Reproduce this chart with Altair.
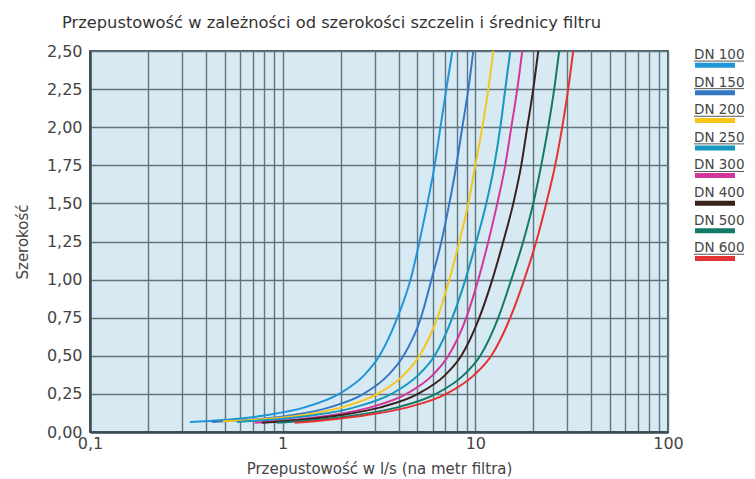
import altair as alt
import pandas as pd

# ---- data ----
series = ["DN 100", "DN 150", "DN 200", "DN 250", "DN 300", "DN 400", "DN 500", "DN 600"]
colors = ["#1e96d8", "#3478c4", "#f7c51c", "#1597bf", "#d4359b", "#3b211c", "#127a67", "#e53232"]
underlined = [True, True, True, True, True, False, False, True]

levels = [0.11, 0.16, 0.25, 0.375, 0.50, 0.75, 1.00, 1.25, 1.50, 1.75, 2.00, 2.25, 2.50]

dn100_q = [0.330, 0.816, 1.285, 1.962, 2.66, 3.18, 3.94, 4.61, 5.13, 5.64, 6.15, 6.59, 7.07, 7.60]
dn100_w = [0.066] + levels

dn150_q = [0.429, 1.113, 1.731, 2.629, 3.54, 4.24, 5.22, 5.92, 6.67, 7.33, 7.97, 8.56, 9.20, 9.76]
dn150_w = [0.066] + levels

dn200_q = [0.489, 1.262, 1.998, 3.106, 4.26, 5.13, 6.36, 7.33, 8.26, 9.20, 10.0, 10.87, 11.68, 12.40]
dn200_w = [0.07] + levels

dn250_q = [0.578, 1.447, 2.333, 3.671, 5.07, 6.15, 7.60, 8.88, 10.12, 11.40, 12.54, 13.48, 14.30, 15.18]
dn250_w = [0.066] + levels

dn300_q = [0.716, 1.784, 2.823, 4.39, 6.02, 7.25, 8.98, 10.36, 11.68, 13.00, 14.30, 15.37, 16.51, 17.52]
dn300_w = [0.06] + levels

dn400_q = [0.778, 1.974, 3.181, 5.04, 6.99, 8.46, 10.49, 12.25, 13.97, 15.74, 17.31, 18.60, 19.98, 21.21]
dn400_w = [0.06] + levels

dn500_q = [0.931, 2.389, 3.896, 6.24, 8.72, 10.61, 13.16, 15.37, 17.73, 19.98, 21.98, 23.89, 25.67, 27.24]
dn500_w = [0.06] + levels

dn600_q = [1.154, 2.692, 4.391, 7.07, 9.88, 12.10, 15.18, 17.94, 20.71, 23.33, 25.97, 28.24, 30.33, 32.20]
dn600_w = [0.06] + levels

x_grid = [0.1, 0.2, 0.3, 0.4, 0.5, 0.6, 0.7, 0.8, 0.9,
          1, 2, 3, 4, 5, 6, 7, 8, 9,
          10, 20, 30, 40, 50, 60, 70, 80, 90, 100]
y_ticks = [0, 0.25, 0.5, 0.75, 1.0, 1.25, 1.5, 1.75, 2.0, 2.25, 2.5]

# ---- build tables ----
all_q = [dn100_q, dn150_q, dn200_q, dn250_q, dn300_q, dn400_q, dn500_q, dn600_q]
all_w = [dn100_w, dn150_w, dn200_w, dn250_w, dn300_w, dn400_w, dn500_w, dn600_w]
rows = []
for name, qs, ws in zip(series, all_q, all_w):
    for i, (q, w) in enumerate(zip(qs, ws)):
        rows.append({"series": name, "q": q, "w": w, "i": i})
df = pd.DataFrame(rows)
leg = pd.DataFrame({"series": series, "row": list(range(len(series))), "ul": underlined})

FONT = "DejaVu Sans"
W, H = 578, 381
color_scale = alt.Scale(domain=series, range=colors)

lines = alt.Chart(df).mark_line(strokeWidth=2, interpolate="monotone", clip=True).encode(
    x=alt.X("q:Q",
            scale=alt.Scale(type="log", domain=[0.1, 100], nice=False),
            axis=alt.Axis(values=x_grid, title="Przepustowość w l/s (na metr filtra)",
                          labelExpr="datum.value == 0.1 ? '0,1' : (datum.value == 1 || datum.value == 10 || datum.value == 100) ? '' + datum.value : ''",
                          labelFlush=False, labelOverlap=False, labelPadding=3,
                          titlePadding=10)),
    y=alt.Y("w:Q",
            scale=alt.Scale(domain=[0, 2.5], nice=False),
            axis=alt.Axis(values=y_ticks, title="Szerokość",
                          labelExpr="replace(format(datum.value, '.2f'), '.', ',')",
                          labelPadding=8, titlePadding=16)),
    color=alt.Color("series:N", scale=color_scale, legend=None),
    detail="series:N",
    order="i:Q",
)

leg_y = alt.Scale(domain=[-0.145, 13.66], reverse=True)
leg_text = alt.Chart(leg).mark_text(align="left", baseline="middle", fontSize=13.5,
                                    font=FONT, color="#454545").encode(
    x=alt.value(604),
    y=alt.Y("row:Q", scale=leg_y, axis=None),
    text="series:N",
)
leg_ul = alt.Chart(leg).transform_filter("datum.ul").transform_calculate(
    u="datum.row + 0.22").mark_rule(strokeWidth=1, color="#555555").encode(
    x=alt.value(604), x2=alt.value(654),
    y=alt.Y("u:Q", scale=leg_y, axis=None),
)
leg_bar = alt.Chart(leg).transform_calculate(b="datum.row + 0.37").mark_rule(strokeWidth=5).encode(
    x=alt.value(605), x2=alt.value(645),
    y=alt.Y("b:Q", scale=leg_y, axis=None),
    color=alt.Color("series:N", scale=color_scale, legend=None),
)

chart = alt.layer(lines, leg_text, leg_ul, leg_bar).resolve_scale(y="independent").properties(
    width=W, height=H,
    title=alt.TitleParams("Przepustowość w zależności od szerokości szczelin i średnicy filtru",
                          anchor="start", frame="group", dx=-28, offset=12, fontSize=16.3, font=FONT,
                          fontWeight="normal", color="#333333"),
    autosize=alt.AutoSizeParams(type="none"),
    padding={"left": 82, "top": 43, "right": 79, "bottom": 60},
).configure_view(
    fill="#d7eaf4", stroke="#4c5d66", strokeWidth=2,
).configure_axis(
    grid=True, gridColor="#5f747d", gridWidth=1.4, gridOpacity=1,
    domainColor="#3d4d55", domainWidth=2.5, ticks=False,
    labelFont=FONT, labelFontSize=16, labelColor="#444444",
    titleFont=FONT, titleFontSize=15, titleFontWeight="normal", titleColor="#444444",
)

chart.save("out.html", embed_options={"renderer": "svg", "actions": False})
